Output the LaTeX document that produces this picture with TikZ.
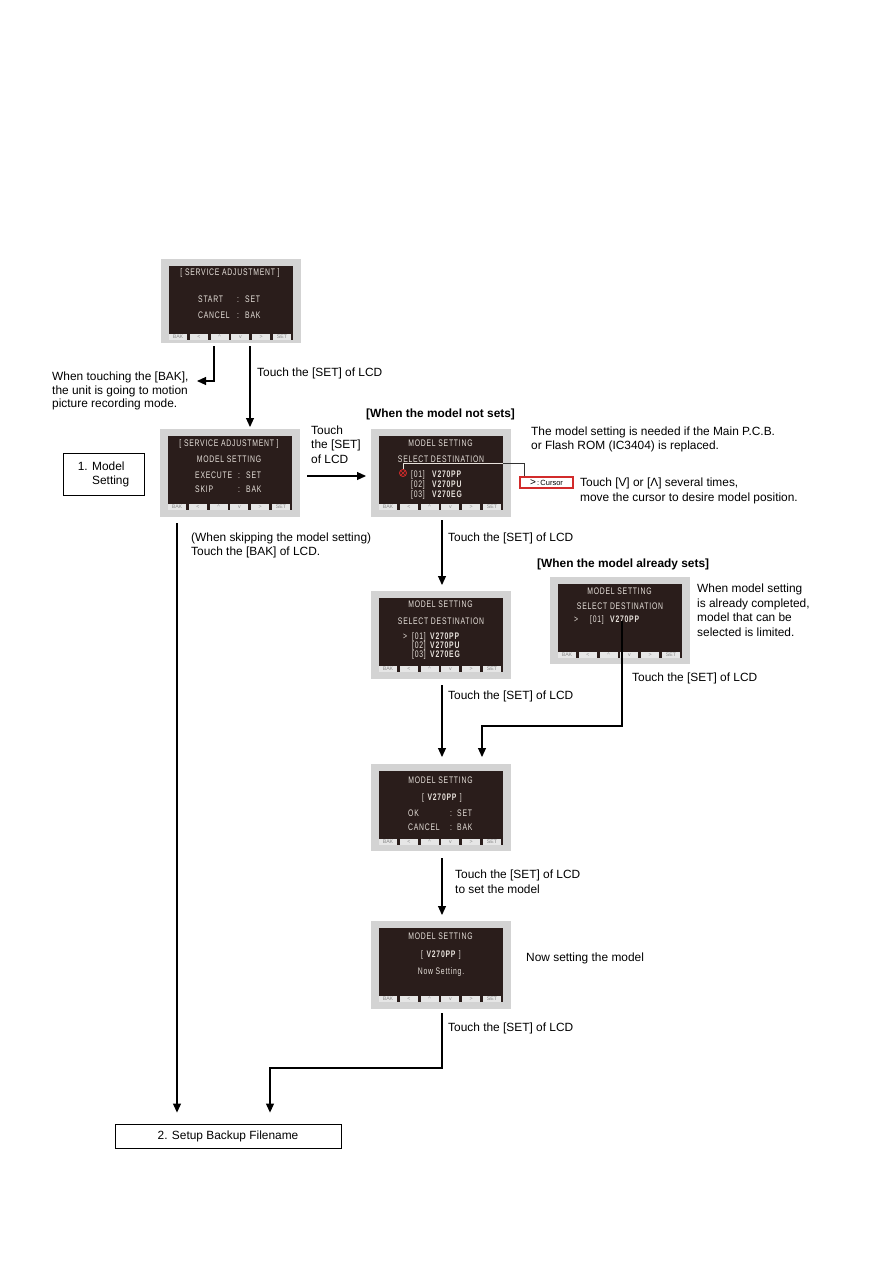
\documentclass[tikz,border=0pt]{standalone}
\usepackage{fontspec}
\setmainfont{Liberation Sans}
\newfontfamily\lcdfont[FakeStretch=0.72,LetterSpace=8]{Liberation Sans}
\usetikzlibrary{arrows.meta,calc}
\definecolor{lcdframe}{HTML}{D3D3D3}
\definecolor{lcdscreen}{HTML}{2A1D1B}
\definecolor{lcdtext}{HTML}{E8E2DC}
\definecolor{btn}{HTML}{E6E6E6}
\definecolor{btntext}{HTML}{8A8A8A}
\definecolor{cursred}{HTML}{D22B2B}
\tikzset{
 lcdbox/.style={fill=lcdframe, draw=none, minimum width=140pt, minimum height=88pt, inner sep=0, anchor=north west},
 lcdtxt/.style={font=\lcdfont\fontsize{9.5}{10}\selectfont, text=lcdtext, inner sep=0},
 btnlbl/.style={font=\fontsize{5.2}{6}\selectfont, text=btntext, inner sep=0},
 txt/.style={font=\fontsize{11.9}{14}\selectfont, inner sep=0, anchor=base west},
 hdr/.style={font=\bfseries\fontsize{11.9}{14}\selectfont, inner sep=0, anchor=base west},
 flow/.style={line width=1.1pt, -{Triangle[length=9pt,width=8pt]}},
 plain/.style={line width=1.1pt},
 stepbox/.style={draw, line width=0.9pt, inner sep=0, fill=white, font=\fontsize{11.9}{14}\selectfont},
}
\newcommand\lcdinner{%
  \fill[lcdscreen] (8,7) rectangle (132,81);
  \foreach \i/\l in {0/BAK,1/<,2/\textasciicircum,3/v,4/>,5/SET} {
     \fill[btn] ({8+20.8*\i},74.5) rectangle ({26+20.8*\i},81);
     \node[btnlbl] (bt\i) at ({17+20.8*\i},77.8) {\l};
  }%
}
\newcommand\tline[4]{\node[txt] (#1) at (#2,#3+4.3) {#4};}
\begin{document}
\begin{tikzpicture}[x=1pt,y=-1pt]
\fill[white] (0,0) rectangle (893,1263);
\useasboundingbox (0,0) rectangle (893,1263);

% ---------- LCD 1
\node[lcdbox, minimum height=84pt] (lcd1) at (161,259) {};
\begin{scope}[shift={(lcd1.north west)}]
  \lcdinner
  \node[lcdtxt, anchor=base] (l1a) at (69,16) {[ SERVICE ADJUSTMENT ]};
  \node[lcdtxt, anchor=base west] (l1b) at (37,43) {START};
  \node[lcdtxt, anchor=base west] (l1c) at (76,43) {:};
  \node[lcdtxt, anchor=base west] (l1d) at (84,43) {SET};
  \node[lcdtxt, anchor=base west] (l1e) at (37,59) {CANCEL};
  \node[lcdtxt, anchor=base west] (l1f) at (76,59) {:};
  \node[lcdtxt, anchor=base west] (l1g) at (84,59) {BAK};
\end{scope}

% ---------- LCD 2
\node[lcdbox] (lcd2) at (160,429) {};
\begin{scope}[shift={(lcd2.north west)}]
  \lcdinner
  \node[lcdtxt, anchor=base] (l2a) at (69,17) {[ SERVICE ADJUSTMENT ]};
  \node[lcdtxt, anchor=base] (l2b) at (69,33) {MODEL SETTING};
  \node[lcdtxt, anchor=base west] (l2c) at (35,49) {EXECUTE};
  \node[lcdtxt, anchor=base west] (l2d) at (78,49) {:};
  \node[lcdtxt, anchor=base west] (l2e) at (86,49) {SET};
  \node[lcdtxt, anchor=base west] (l2f) at (35,63) {SKIP};
  \node[lcdtxt, anchor=base west] (l2g) at (78,63) {:};
  \node[lcdtxt, anchor=base west] (l2h) at (86,63) {BAK};
\end{scope}

% ---------- LCD 3
\node[lcdbox] (lcd3) at (371,429) {};
\begin{scope}[shift={(lcd3.north west)}]
  \lcdinner
  \node[lcdtxt, anchor=base] (l3a) at (69.5,17) {MODEL SETTING};
  \node[lcdtxt, anchor=base] (l3b) at (70,33) {SELECT DESTINATION};
  \node[lcdtxt, anchor=base west] (l3c) at (40,48) {[01]};
  \node[lcdtxt, anchor=base west] (l3d) at (61,48) {\bfseries V270PP};
  \node[lcdtxt, anchor=base west] (l3e) at (40,58) {[02]};
  \node[lcdtxt, anchor=base west] (l3f) at (61,58) {\bfseries V270PU};
  \node[lcdtxt, anchor=base west] (l3g) at (40,68) {[03]};
  \node[lcdtxt, anchor=base west] (l3h) at (61,68) {\bfseries V270EG};
\end{scope}

% ---------- LCD 4
\node[lcdbox] (lcd4) at (371,591) {};
\begin{scope}[shift={(lcd4.north west)}]
  \lcdinner
  \node[lcdtxt, anchor=base] (l4a) at (69.5,16) {MODEL SETTING};
  \node[lcdtxt, anchor=base] (l4b) at (70,33) {SELECT DESTINATION};
  \node[lcdtxt, anchor=base west] (l4c) at (32,48) {>};
  \node[lcdtxt, anchor=base west] (l4d) at (41,48) {[01]};
  \node[lcdtxt, anchor=base west] (l4e) at (59,48) {\bfseries V270PP};
  \node[lcdtxt, anchor=base west] (l4f) at (41,57) {[02]};
  \node[lcdtxt, anchor=base west] (l4g) at (59,57) {\bfseries V270PU};
  \node[lcdtxt, anchor=base west] (l4h) at (41,66) {[03]};
  \node[lcdtxt, anchor=base west] (l4i) at (59,66) {\bfseries V270EG};
\end{scope}

% ---------- LCD 5
\node[lcdbox, minimum height=87pt] (lcd5) at (550,577) {};
\begin{scope}[shift={(lcd5.north west)}]
  \lcdinner
  \node[lcdtxt, anchor=base] (l5a) at (69.5,17) {MODEL SETTING};
  \node[lcdtxt, anchor=base] (l5b) at (70,32) {SELECT DESTINATION};
  \node[lcdtxt, anchor=base west] (l5c) at (24,45) {>};
  \node[lcdtxt, anchor=base west] (l5d) at (40,45) {[01]};
  \node[lcdtxt, anchor=base west] (l5e) at (60,45) {\bfseries V270PP};
\end{scope}

% ---------- LCD 6
\node[lcdbox, minimum height=87pt] (lcd6) at (371,764) {};
\begin{scope}[shift={(lcd6.north west)}]
  \lcdinner
  \node[lcdtxt, anchor=base] (l6a) at (69.5,19) {MODEL SETTING};
  \node[lcdtxt, anchor=base] (l6b) at (71,36) {[ \textbf{V270PP} ]};
  \node[lcdtxt, anchor=base west] (l6c) at (37,52) {OK};
  \node[lcdtxt, anchor=base west] (l6d) at (79,52) {:};
  \node[lcdtxt, anchor=base west] (l6e) at (86,52) {SET};
  \node[lcdtxt, anchor=base west] (l6f) at (37,66) {CANCEL};
  \node[lcdtxt, anchor=base west] (l6g) at (79,66) {:};
  \node[lcdtxt, anchor=base west] (l6h) at (86,66) {BAK};
\end{scope}

% ---------- LCD 7
\node[lcdbox] (lcd7) at (371,921) {};
\begin{scope}[shift={(lcd7.north west)}]
  \lcdinner
  \node[lcdtxt, anchor=base] (l7a) at (69.5,18) {MODEL SETTING};
  \node[lcdtxt, anchor=base] (l7b) at (70,36) {[ \textbf{V270PP} ]};
  \node[lcdtxt, anchor=base] (l7c) at (70,53) {Now Setting.};
\end{scope}

% ---------- boxes
\node[stepbox, minimum width=81pt, minimum height=42pt, align=left] (box1) at (103.5,474) {1. Model\\\phantom{1. }Setting};
\node[stepbox, minimum width=226pt, minimum height=24pt] (box2) at (228,1136) {2. Setup Backup Filename};

% cursor marker
\node[circle, draw=cursred, line width=0.9pt, minimum size=7pt, inner sep=0] (circ) at (403,473) {};
\draw[cursred, line width=0.7pt] ($(circ.center)+(-1.8,-1.8)$) -- ($(circ.center)+(1.8,1.8)$)
      ($(circ.center)+(-1.8,1.8)$) -- ($(circ.center)+(1.8,-1.8)$);
\node[draw=cursred, line width=1.1pt, minimum width=53pt, minimum height=11pt, inner sep=0, fill=white, font=\fontsize{7.5}{8}\selectfont] (cursor) at (546.5,482.5) {{\fontsize{10}{9}\selectfont >}\,:\,Cursor};
\coordinate (cturn) at (524,463);
\coordinate (scrR) at (503,463);
\draw[line width=0.8pt, black!80] (circ.north) |- (cturn) -- (cturn |- cursor.north);
\draw[line width=0.8pt, lcdtext] (circ.north) |- (scrR);

% ---------- connectors
\coordinate (bakturn) at (214,381);
\coordinate (bakend) at (197,381);
\draw[flow, shorten <=3pt] (lcd1.south -| bakturn) -- (bakturn) -- (bakend);

\coordinate (setx) at (250,0);
\draw[flow, shorten <=3pt, shorten >=2pt] (lcd1.south -| setx) -- (lcd2.north -| setx);

\coordinate (row1) at (0,476);
\draw[flow, shorten <=7pt, shorten >=5pt] (lcd2.east |- row1) -- (lcd3.west |- row1);

\coordinate (lx) at (177,0);
\draw[flow, shorten <=6pt, shorten >=11pt] (lcd2.south -| lx) -- (box2.north -| lx);

\coordinate (mx) at (442,0);
\draw[flow, shorten <=3pt, shorten >=6pt] (lcd3.south -| mx) -- (lcd4.north -| mx);
\draw[flow, shorten <=6pt, shorten >=7pt] (lcd4.south -| mx) -- (lcd6.north -| mx);

\coordinate (t7a) at (622,726);
\coordinate (t7b) at (482,726);
\draw[flow, shorten >=7pt] (lcd5.center -| t7a) -- (t7a) -- (t7b) -- (lcd6.north -| t7b);

\draw[flow, shorten <=7pt, shorten >=6pt] (lcd6.south -| mx) -- (lcd7.north -| mx);

\coordinate (t9a) at (442,1068);
\coordinate (t9b) at (270,1068);
\draw[flow, shorten <=4pt, shorten >=11pt] (lcd7.south -| t9a) -- (t9a) -- (t9b) -- (box2.north -| t9b);

% ---------- texts
\tline{ta1}{52}{376}{When touching the [BAK],}
\tline{ta2}{52}{390}{the unit is going to motion}
\tline{ta3}{52}{403}{picture recording mode.}
\tline{tb1}{257}{372}{Touch the [SET] of LCD}
\node[hdr] (hd1) at (366,417.5) {[When the model not sets]};
\tline{tc1}{311}{430}{Touch}
\tline{tc2}{311}{444}{the [SET]}
\tline{tc3}{311}{459}{of LCD}
\tline{td1}{531}{431}{The model setting is needed if the Main P.C.B.}
\tline{td2}{531}{445}{or Flash ROM (IC3404) is replaced.}
\tline{te1}{580}{482}{Touch [V] or [Λ] several times,}
\tline{te2}{580}{497}{move the cursor to desire model position.}
\tline{tf1}{191}{537}{(When skipping the model setting)}
\tline{tf2}{191}{551}{Touch the [BAK] of LCD.}
\tline{tg1}{448}{537}{Touch the [SET] of LCD}
\node[hdr] (hd2) at (537,567.5) {[When the model already sets]};
\tline{th1}{697}{588}{When model setting}
\tline{th2}{697}{603}{is already completed,}
\tline{th3}{697}{617}{model that can be}
\tline{th4}{697}{632}{selected is limited.}
\tline{ti1}{632}{677}{Touch the [SET] of LCD}
\tline{tj1}{448}{695}{Touch the [SET] of LCD}
\tline{tk1}{455}{874}{Touch the [SET] of LCD}
\tline{tk2}{455}{889}{to set the model}
\tline{tl1}{526}{957}{Now setting the model}
\tline{tm1}{448}{1027}{Touch the [SET] of LCD}
\end{tikzpicture}
\end{document}
